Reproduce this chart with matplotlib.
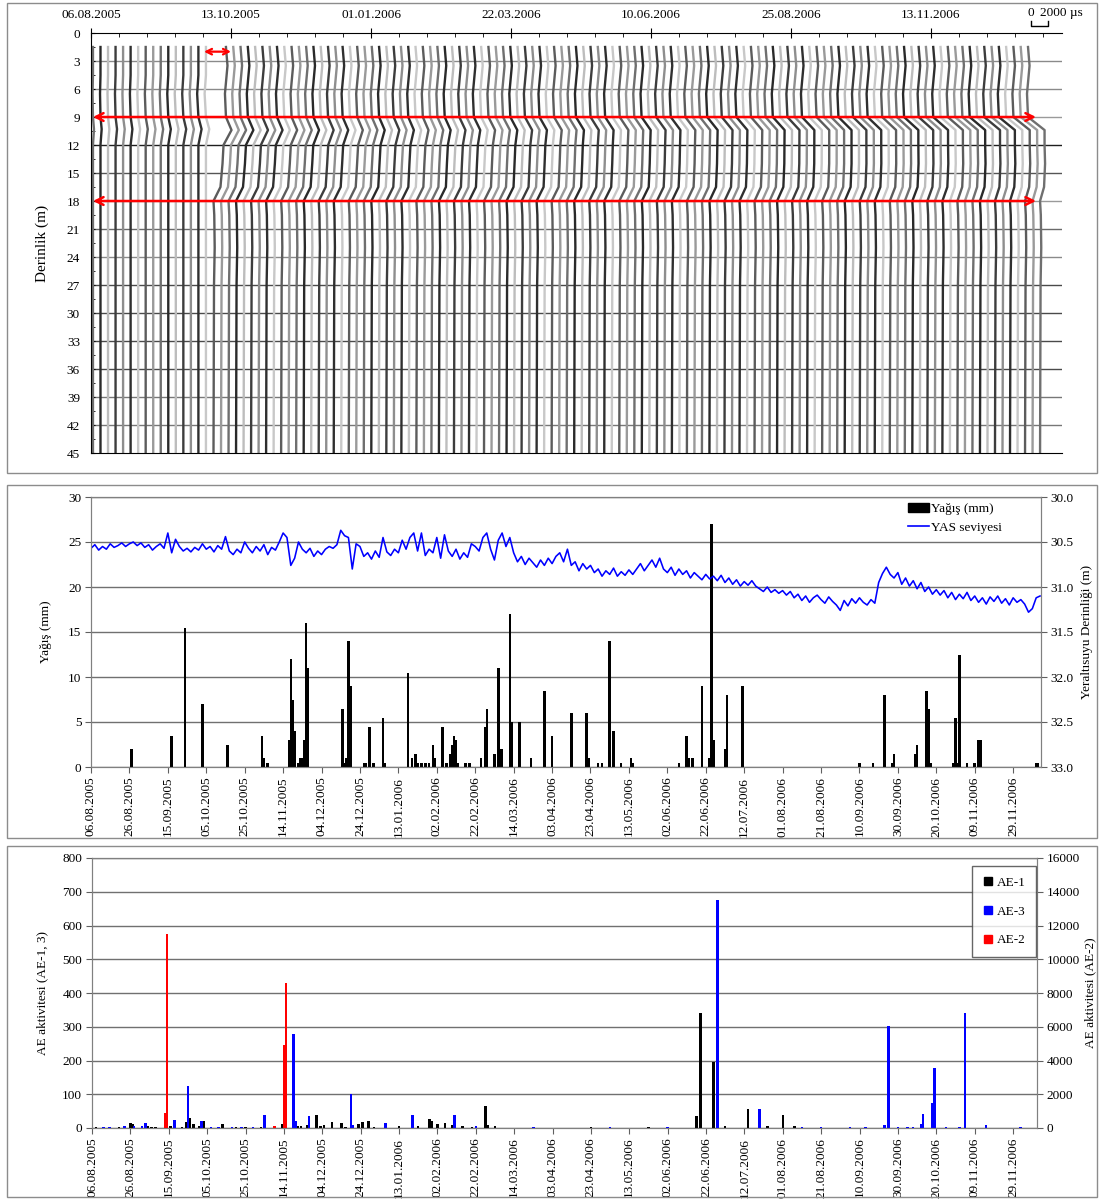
import numpy as np
import pandas as pd
import matplotlib
matplotlib.use("Agg")
import matplotlib.pyplot as plt
from matplotlib.patches import Rectangle, Patch
from matplotlib.lines import Line2D

plt.rcParams["font.family"] = ["Liberation Serif", "DejaVu Serif"]
plt.rcParams["font.size"] = 9.5

# ------------------------------------------------------------------
# Waveform section (top panel)
# ------------------------------------------------------------------
top_dates = ["06.08.2005", "13.10.2005", "01.01.2006", "22.03.2006",
             "10.06.2006", "25.08.2006", "13.11.2006"]
depth_ticks = list(range(0, 46, 3))
marked_depths = [9, 18]                    # red arrows
n_pre, n_post = 16, 111                    # traces before / after the gap

# trace positions along the time axis (axis units, one unit per date label)
pre_first, pre_last = 0.014, 0.821
post_bot_first, post_bot_last = 0.875, 6.779
post_top_first, post_top_last = 0.964, 6.693

# horizontal offset profiles (microseconds)
pre_depth = [1.5, 4.5, 6.5, 9.0, 10.3, 12.0, 45.0]
pre_shift = [0, 0, -120, 0, 300, 0, 0]

post_depth = [1.5, 3.5, 6.5, 9.0, 10.4, 12.0, 14.0, 16.5, 18.0, 19.5, 23.0, 27.0, 45.0]
post_upper_wiggle = [0, 180, -120, 0]
post_lower = [0, 90, 140, 60, 0]
stage = [0.0, 0.25, 0.5, 0.75, 1.0]
zone_104 = [2120, 1410, 1060, 820, 530]
zone_120 = [1180, 1060, 1000, 820, 530]
zone_140 = [1060, 940, 940, 820, 590]
zone_165 = [820, 820, 820, 710, 470]

trace_shades = ["#6f6f6f", "#2a2a2a", "#bdbdbd", "#3d3d3d", "#8e8e8e",
                "#2f2f2f", "#c8c8c8", "#5c5c5c", "#9a9a9a"]
grid_shades = {3: "#8a8a8a", 6: "#8a8a8a", 9: "#9a9a9a", 12: "#1e1e1e",
               15: "#555555", 18: "#9a9a9a", 21: "#6a6a6a", 24: "#8a8a8a",
               27: "#4a4a4a", 30: "#4a4a4a", 33: "#4a4a4a", 36: "#4a4a4a",
               39: "#777777", 42: "#777777"}

# ------------------------------------------------------------------
# Rainfall and groundwater level (middle panel), day 0 = 06.08.2005
# ------------------------------------------------------------------
rain_day = [21, 42, 49, 58, 71, 89, 90, 92,
            103, 104, 105, 106, 108, 109, 110, 111, 112, 113,
            131, 132, 133, 134, 135, 142, 143, 145, 147, 152, 153,
            165, 167, 169, 170, 172, 174, 176, 178, 179, 183, 185,
            187, 188, 189, 190, 191, 195, 197, 203, 205, 206,
            210, 212, 213, 214, 218, 219, 223, 229, 236, 240,
            250, 258, 259, 264, 266, 270, 272, 276, 281, 282,
            306, 310, 311, 313, 318, 322, 323, 324, 330, 331, 339,
            400, 407, 413, 417, 418, 429, 430, 435, 436, 437,
            449, 450, 451, 452, 456, 460, 462, 463, 492, 493]
rain_mm = [2.0, 3.5, 15.5, 7.0, 2.5, 3.5, 1.0, 0.5,
           3.0, 12.0, 7.5, 4.0, 0.5, 1.0, 1.0, 3.0, 16.0, 11.0,
           6.5, 0.5, 1.0, 14.0, 9.0, 0.5, 0.5, 4.5, 0.5, 5.5, 0.5,
           10.5, 1.0, 1.5, 0.5, 0.5, 0.5, 0.5, 2.5, 1.0, 4.5, 0.5,
           1.5, 2.5, 3.5, 3.0, 0.5, 0.5, 0.5, 1.0, 4.5, 6.5,
           1.5, 11.0, 2.0, 2.0, 17.0, 5.0, 5.0, 1.0, 8.5, 3.5,
           6.0, 6.0, 1.0, 0.5, 0.5, 14.0, 4.0, 0.5, 1.0, 0.5,
           0.5, 3.5, 1.0, 1.0, 9.0, 1.0, 27.0, 3.0, 2.0, 8.0, 9.0,
           0.5, 0.5, 8.0, 0.5, 1.5, 1.5, 2.5, 8.5, 6.5, 0.5,
           0.5, 5.5, 0.5, 12.5, 0.5, 0.5, 3.0, 3.0, 0.5, 0.5]

yas_day = list(range(0, 496, 2))
yas_m = [30.57, 30.53, 30.59, 30.55, 30.58, 30.52, 30.56, 30.54, 30.51, 30.55,
         30.52, 30.50, 30.54, 30.51, 30.56, 30.53, 30.59, 30.55, 30.52, 30.57,
         30.40, 30.62, 30.47, 30.55, 30.60, 30.57, 30.61, 30.56, 30.59, 30.52,
         30.58, 30.55, 30.61, 30.54, 30.58, 30.44, 30.60, 30.64, 30.58, 30.62,
         30.50, 30.57, 30.62, 30.55, 30.60, 30.53, 30.64, 30.56, 30.59, 30.50,
         30.40, 30.45, 30.76, 30.68, 30.50, 30.58, 30.62, 30.57, 30.66, 30.60,
         30.64, 30.58, 30.55, 30.57, 30.53, 30.37, 30.43, 30.45, 30.80, 30.52,
         30.55, 30.66, 30.62, 30.69, 30.60, 30.67, 30.45, 30.61, 30.65, 30.58,
         30.62, 30.48, 30.58, 30.45, 30.40, 30.60, 30.40, 30.65, 30.58, 30.62,
         30.45, 30.68, 30.42, 30.60, 30.66, 30.58, 30.69, 30.62, 30.67, 30.52,
         30.55, 30.60, 30.45, 30.40, 30.58, 30.70, 30.48, 30.40, 30.55, 30.45,
         30.62, 30.72, 30.66, 30.75, 30.68, 30.73, 30.78, 30.70, 30.76, 30.68,
         30.74, 30.66, 30.62, 30.72, 30.58, 30.76, 30.72, 30.82, 30.74, 30.80,
         30.76, 30.84, 30.80, 30.88, 30.82, 30.86, 30.79, 30.88, 30.83, 30.87,
         30.81, 30.86, 30.80, 30.74, 30.82, 30.76, 30.70, 30.78, 30.68, 30.80,
         30.84, 30.78, 30.87, 30.80, 30.86, 30.82, 30.90, 30.84, 30.88, 30.92,
         30.86, 30.91, 30.88, 30.93, 30.87, 30.95, 30.90, 30.97, 30.92, 30.99,
         30.94, 30.98, 30.93, 30.99, 31.02, 31.05, 31.00, 31.06, 31.03, 31.07,
         31.04, 31.09, 31.05, 31.12, 31.08, 31.15, 31.10, 31.17, 31.12, 31.09,
         31.14, 31.18, 31.11, 31.16, 31.20, 31.26, 31.15, 31.21, 31.13, 31.18,
         31.12, 31.17, 31.20, 31.14, 31.18, 30.95, 30.85, 30.78, 30.86, 30.90,
         30.84, 30.97, 30.90, 30.99, 30.93, 31.02, 30.95, 31.05, 31.00, 31.08,
         31.03, 31.09, 31.04, 31.12, 31.06, 31.14, 31.08, 31.13, 31.06, 31.15,
         31.10, 31.17, 31.12, 31.19, 31.11, 31.16, 31.10, 31.18, 31.13, 31.20,
         31.12, 31.17, 31.14, 31.19, 31.28, 31.24, 31.12, 31.10]

# ------------------------------------------------------------------
# Acoustic emission counts (bottom panel)
# ------------------------------------------------------------------
ae1_day = [2, 14, 20, 21, 29, 31, 33, 41, 47, 49, 51, 53, 56, 58, 68, 75, 80, 88,
           99, 107, 109, 112, 117, 119, 121, 125, 130, 132, 139, 141, 144, 147,
           160, 170, 176, 177, 180, 184, 188, 193, 198, 205, 206, 210, 230, 260,
           290, 315, 317, 324, 330, 342, 352, 360, 366, 380]
ae1 = [3, 3, 15, 12, 5, 3, 3, 5, 3, 18, 30, 12, 5, 20, 12, 3, 3, 3,
       12, 5, 5, 8, 38, 5, 10, 18, 15, 3, 12, 18, 22, 3,
       5, 5, 28, 20, 12, 15, 10, 5, 3, 65, 10, 5, 2, 2,
       2, 35, 340, 195, 5, 55, 5, 38, 5, 2]
ae3_day = [6, 9, 17, 22, 26, 28, 43, 50, 57, 62, 66, 73, 78, 84, 90, 105, 106,
           113, 135, 136, 153, 167, 189, 200, 230, 270, 300, 326, 348, 370, 380,
           395, 403, 413, 415, 420, 425, 428, 432, 433, 438, 439, 445, 452, 455,
           466, 484]
ae3 = [2, 2, 5, 5, 5, 15, 25, 125, 22, 3, 3, 3, 3, 3, 40, 280, 22,
       35, 100, 10, 15, 40, 40, 5, 2, 2, 2, 675, 55, 2, 2,
       2, 2, 10, 302, 2.5, 2, 2, 12, 42, 75, 178, 3, 2.5, 342,
       8, 2]
ae2_day = [38, 39, 95, 100, 101]
ae2 = [900, 11500, 100, 4900, 8600]

start = pd.Timestamp("2005-08-06")
date_ticks = list(range(0, 481, 20))
date_labels = [(start + pd.Timedelta(days=d)).strftime("%d.%m.%Y") for d in date_ticks]

# ------------------------------------------------------------------
W, H = 1103, 1202
fig = plt.figure(figsize=(W / 100, H / 100), dpi=100)


def axrect(l, t, r, b):
    return [l / W, 1 - b / H, (r - l) / W, (b - t) / H]


for t, b in [(3, 473), (485, 838), (846, 1197)]:
    fig.add_artist(Rectangle((7 / W, 1 - b / H), 1090 / W, (b - t) / H,
                             transform=fig.transFigure, fill=False,
                             edgecolor="#8c8c8c", lw=1.0))

# ---------------- top panel ----------------
ax1 = fig.add_axes(axrect(91, 33, 1062, 453))
unit_px = 140.0                       # pixels per date-label step
us = 17.0 / unit_px / 2000.0          # axis units per microsecond
ax1.set_xlim(0, (1062 - 91) / unit_px)
ax1.set_ylim(45, 0)

for d in range(3, 45, 3):
    ax1.axhline(d, color=grid_shades[d], lw=1.0, zorder=1)

k = 0
for i, x0 in enumerate(np.linspace(pre_first, pre_last, n_pre)):
    amp = 0.4 + 0.9 * i / (n_pre - 1)
    xs = x0 + amp * np.array(pre_shift) * us
    ax1.plot(xs, pre_depth, color=trace_shades[k % len(trace_shades)],
             lw=1.7, zorder=2)
    k += 1

xb = np.linspace(post_bot_first, post_bot_last, n_post)
xt = np.linspace(post_top_first, post_top_last, n_post)
frac = np.linspace(0, 1, n_post)
for i in range(n_post):
    top_off = (xt[i] - xb[i]) / us
    z = [np.interp(frac[i], stage, zone) for zone in (zone_104, zone_120, zone_140, zone_165)]
    shift = [top_off + w for w in post_upper_wiggle] + z + post_lower
    xs = xb[i] + np.array(shift) * us
    ax1.plot(xs, post_depth, color=trace_shades[k % len(trace_shades)],
             lw=1.7, zorder=2)
    k += 1

for d in marked_depths:
    ax1.annotate("", xy=(0.014, d), xytext=(6.75, d),
                 arrowprops=dict(arrowstyle="<->", color="red", lw=1.8,
                                 mutation_scale=14, shrinkA=0, shrinkB=0),
                 zorder=5)
ax1.annotate("", xy=(0.807, 2.0), xytext=(1.0, 2.0),
             arrowprops=dict(arrowstyle="<->", color="red", lw=1.6,
                             mutation_scale=10, shrinkA=0, shrinkB=0),
             zorder=5)

ax1.xaxis.tick_top()
ax1.set_xticks(range(7))
ax1.set_xticklabels(top_dates)
ax1.set_xticks(np.arange(0, 6.95, 0.2), minor=True)
ax1.tick_params(axis="x", which="major", direction="inout", length=7, pad=5)
ax1.tick_params(axis="x", which="minor", direction="in", length=3)
ax1.set_yticks(depth_ticks)
ax1.set_yticks(np.arange(1.5, 45, 3), minor=True)
ax1.tick_params(axis="y", which="both", direction="in", length=3, pad=8)
ax1.spines["right"].set_visible(False)
ax1.set_ylabel("Derinlik (m)", fontsize=11)
ax1.yaxis.set_label_coords(-0.043, 0.5)

# scale bar
sx0 = (1031 - 91) / unit_px
sx1 = sx0 + 2000 * us
ax1.plot([sx0, sx0, sx1, sx1], [-1.25, -0.8, -0.8, -1.25], color="black",
         lw=1.0, clip_on=False)
ax1.text(sx0, -1.45, "0", ha="center", va="bottom")
ax1.text(sx1 - 0.06, -1.45, "2000 µs", ha="left", va="bottom")

# ---------------- middle panel ----------------
ax2 = fig.add_axes(axrect(91, 497, 1041, 767))
ax2.bar(rain_day, rain_mm, width=1.3, color="black", zorder=3)
ax2.set_xlim(0, 494.5)
ax2.set_ylim(0, 30)
ax2.set_yticks(range(0, 31, 5))
ax2.yaxis.grid(True, color="#707070", lw=1.0)
ax2.set_axisbelow(True)
ax2.set_xticks(date_ticks)
ax2.set_xticklabels(date_labels, rotation=90)
ax2.tick_params(axis="both", direction="out", length=4, pad=3, color="#606060")
ax2.set_ylabel("Yağış (mm)")
ax2.yaxis.set_label_coords(-0.041, 0.5)
for s in ax2.spines.values():
    s.set_color("#808080")
ax2.spines["top"].set_color("#505050")

ax2r = ax2.twinx()
ax2r.plot(yas_day, yas_m, color="#0000ff", lw=1.15)
ax2r.set_ylim(33, 30)
ax2r.set_yticks(np.arange(30, 33.01, 0.5))
ax2r.set_yticklabels([f"{v:.1f}" for v in np.arange(30, 33.01, 0.5)])
ax2r.tick_params(axis="y", direction="out", length=4, pad=3, color="#606060")
ax2r.set_ylabel("Yeraltısuyu Derinliği (m)")
ax2r.yaxis.set_label_coords(1.042, 0.5)
for s in ax2r.spines.values():
    s.set_color("#808080")

fig.legend(handles=[Patch(facecolor="black", edgecolor="black"),
                    Line2D([], [], color="#0000ff", lw=1.2)],
           labels=["Yağış (mm)", "YAS seviyesi"],
           loc="upper left", bbox_to_anchor=(905 / W, 1 - 500 / H),
           frameon=False, handlelength=1.6, handletextpad=0.15,
           labelspacing=0.5, borderaxespad=0, borderpad=0.2)

# ---------------- bottom panel ----------------
ax3 = fig.add_axes(axrect(92, 858, 1037, 1128))
ax3.bar(ae1_day, ae1, width=1.3, color="black", zorder=3)
ax3.bar(ae3_day, ae3, width=1.3, color="#0000ff", zorder=3)
ax3.set_xlim(0, 492.5)
ax3.set_ylim(0, 800)
ax3.set_yticks(range(0, 801, 100))
ax3.yaxis.grid(True, color="#707070", lw=1.0)
ax3.set_axisbelow(True)
ax3.set_xticks(date_ticks)
ax3.set_xticklabels(date_labels, rotation=90)
ax3.tick_params(axis="both", direction="out", length=4, pad=3, color="#606060")
ax3.set_ylabel("AE aktivitesi (AE-1, 3)")
ax3.yaxis.set_label_coords(-0.0466, 0.5)
for s in ax3.spines.values():
    s.set_color("#808080")
ax3.spines["top"].set_color("#505050")

ax3r = ax3.twinx()
ax3r.bar(ae2_day, ae2, width=1.3, color="#ff0000", zorder=3)
ax3r.set_ylim(0, 16000)
ax3r.set_yticks(range(0, 16001, 2000))
ax3r.tick_params(axis="y", direction="out", length=4, pad=3, color="#606060")
ax3r.set_ylabel("AE aktivitesi (AE-2)")
ax3r.yaxis.set_label_coords(1.05, 0.5)
for s in ax3r.spines.values():
    s.set_color("#808080")

sq = dict(marker="s", linestyle="none", markersize=6)
leg = fig.legend(handles=[Line2D([], [], color="black", **sq),
                          Line2D([], [], color="#0000ff", **sq),
                          Line2D([], [], color="#ff0000", **sq)],
                 labels=["AE-1", "AE-3", "AE-2"],
                 loc="upper left", bbox_to_anchor=(972 / W, 1 - 866 / H),
                 frameon=True, fancybox=False, edgecolor="#404040",
                 handlelength=0.8, handletextpad=0.25, labelspacing=1.25,
                 borderpad=0.8, borderaxespad=0)
leg.get_frame().set_linewidth(1.0)

fig.savefig("out.png", dpi=100)
